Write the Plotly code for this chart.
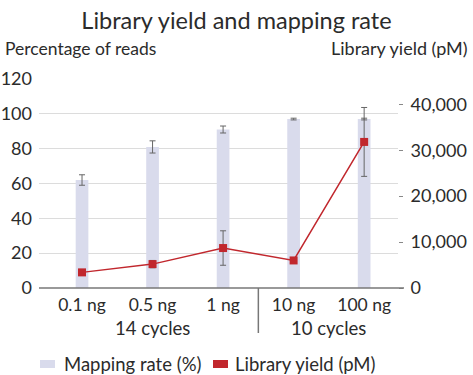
import plotly.graph_objects as go

categories = ["0.1 ng", "0.5 ng", "1 ng", "10 ng", "100 ng"]
cycle_groups = ["14 cycles", "10 cycles"]
mapping_rate = [62, 81, 91, 97, 97]
mapping_err = [3, 3.5, 2, 0.5, 0.5]
library_yield = [3400, 5200, 8700, 6000, 31800]
yield_err = [600, 800, 3750, 300, 7500]
left_ticks = [0, 20, 40, 60, 80, 100, 120]
right_ticks = [0, 10000, 20000, 30000, 40000]
legend_names = ["Mapping rate (%)", "Library yield (pM)"]

FONT = "Lato"
TXT = "#2b2b2b"
BAR = "#d9dbec"
RED = "#c1272d"
ERR = "#666666"

xs = list(range(len(categories)))


def px_x(p):
    return (p - 39) / 359


def px_y(p):
    return (288 - p) / 209


fig = go.Figure()
fig.add_trace(go.Bar(
    x=xs, y=mapping_rate, width=0.18, marker_color=BAR, marker_line_width=0,
    error_y=dict(type="data", array=mapping_err, color=ERR, thickness=1, width=3),
    name=legend_names[0], showlegend=False, yaxis="y",
))
fig.add_trace(go.Scatter(
    x=xs, y=library_yield, mode="lines+markers", yaxis="y2",
    line=dict(color=RED, width=1.5),
    marker=dict(symbol="square", size=8, color=RED),
    error_y=dict(type="data", array=yield_err, color=ERR, thickness=1, width=3),
    name=legend_names[1], showlegend=False,
))

fig.update_layout(
    width=473, height=375,
    margin=dict(l=39, r=75, t=79, b=87, autoexpand=False),
    paper_bgcolor="white", plot_bgcolor="white",
    font=dict(family=FONT, size=18, color=TXT),
    title=dict(text="Library yield and mapping rate", x=0.5, xanchor="center",
               y=1 - 21 / 375, yanchor="middle", yref="container",
               font=dict(size=23.5, color=TXT)),
    barmode="overlay",
    xaxis=dict(range=[-0.61, 4.48], tickvals=xs, ticktext=categories,
               tickfont=dict(size=17.5), ticklabelstandoff=4,
               showgrid=False, zeroline=False, showline=False, ticks="",
               automargin=False),
    yaxis=dict(range=[0, 120], tickvals=left_ticks, showgrid=True,
               gridcolor="#dcdcdc", gridwidth=1, zeroline=False, showline=False,
               ticks="", ticklabelstandoff=6, automargin=False),
    yaxis2=dict(range=[0, 45500], tickvals=right_ticks, tickformat=",",
                overlaying="y", side="right", showgrid=False, zeroline=False,
                showline=False, ticks="outside", ticklen=4, tickcolor="#888888",
                ticklabelstandoff=4, automargin=False),
    showlegend=False,
)

# bottom axis line
fig.add_shape(type="line", xref="paper", yref="paper", x0=0, x1=px_x(404),
              y0=0, y1=0, line=dict(color="#777777", width=1.5))
# separator between groups
fig.add_shape(type="line", xref="x", yref="paper", x0=2.5, x1=2.5, y0=0,
              y1=px_y(333), line=dict(color="#777777", width=1.5))

fig.add_annotation(text=cycle_groups[0], x=1, xref="x", y=px_y(328),
                   yref="paper", yanchor="middle", showarrow=False,
                   font=dict(size=18.5))
fig.add_annotation(text=cycle_groups[1], x=3.5, xref="x", y=px_y(328),
                   yref="paper", yanchor="middle", showarrow=False,
                   font=dict(size=18.5))
fig.add_annotation(text="Percentage of reads", x=px_x(3), xref="paper",
                   xanchor="left", y=px_y(48), yref="paper", yanchor="middle",
                   showarrow=False, font=dict(size=17.5))
fig.add_annotation(text="Library yield (pM)", x=px_x(470), xref="paper",
                   xanchor="right", y=px_y(48), yref="paper", yanchor="middle",
                   showarrow=False, font=dict(size=18))

# legend drawn manually
for sx, tx, col, name in [(40, 62, BAR, legend_names[0]), (213, 233, RED, legend_names[1])]:
    fig.add_shape(type="rect", xref="paper", yref="paper",
                  x0=px_x(sx), x1=px_x(sx + 15), y0=px_y(360), y1=px_y(368),
                  fillcolor=col, line_width=0)
    fig.add_annotation(text=name, x=px_x(tx), xref="paper", xanchor="left",
                       y=px_y(364), yref="paper", yanchor="middle",
                       showarrow=False, font=dict(size=18.5))

fig.write_html("out.html", config={"displayModeBar": False},
               post_script="document.body.style.margin='0';document.body.style.overflow='hidden';")
